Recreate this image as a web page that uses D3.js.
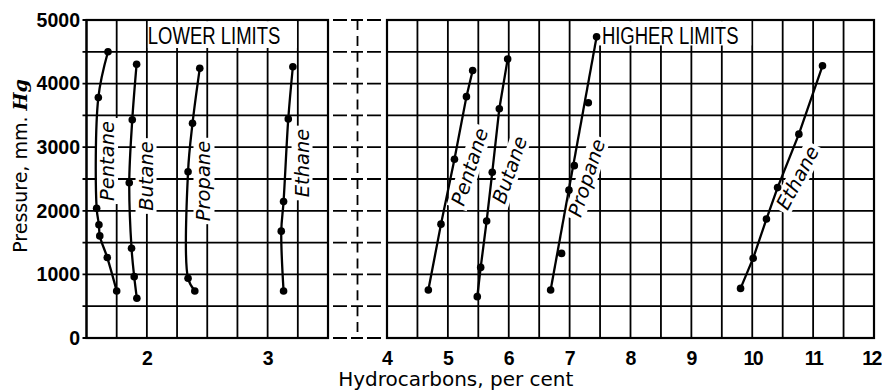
<!DOCTYPE html>
<html>
<head>
<meta charset="utf-8">
<script src="https://cdn.jsdelivr.net/npm/d3@7"></script>
<style>
  body { margin: 0; background: #fff; }
  svg { display: block; }
</style>
</head>
<body>
<svg id="chart" width="882" height="391"></svg>
<script>
// Limits of inflammability of paraffin hydrocarbons in air at reduced pressure.

const gases = ["Pentane", "Butane", "Propane", "Ethane"];

// Lower limits: hydrocarbon per cent and pressure, mm. Hg
const lowerPentanePct = [1.750, 1.672, 1.610, 1.603, 1.584, 1.598, 1.678];
const lowerPentaneP   = [740, 1265, 1605, 1780, 2040, 3780, 4500];
const lowerButanePct  = [1.917, 1.895, 1.873, 1.854, 1.879, 1.915];
const lowerButaneP    = [625, 965, 1410, 2440, 3430, 4305];
const lowerPropanePct = [2.397, 2.341, 2.341, 2.378, 2.438];
const lowerPropaneP   = [740, 940, 2615, 3375, 4240];
const lowerEthanePct  = [3.132, 3.113, 3.132, 3.171, 3.209];
const lowerEthaneP    = [740, 1680, 2145, 3445, 4265];

// Higher limits
const higherPentanePct = [4.679, 4.887, 5.108, 5.305, 5.407];
const higherPentaneP   = [755, 1790, 2810, 3795, 4205];
const higherButanePct  = [5.483, 5.539, 5.637, 5.729, 5.845, 5.982];
const higherButaneP    = [650, 1110, 1840, 2605, 3605, 4385];
const higherPropanePct = [6.688, 6.868, 6.989, 7.077, 7.307, 7.443];
const higherPropaneP   = [755, 1330, 2325, 2710, 3700, 4735];
const higherEthanePct  = [9.808, 10.015, 10.233, 10.416, 10.766, 11.154];
const higherEthaneP    = [780, 1255, 1870, 2365, 3205, 4280];

// Axis ticks
const lowerTicks = [2, 3];
const higherTicks = [4, 5, 6, 7, 8, 9, 10, 11, 12];
const pressureTicks = [0, 1000, 2000, 3000, 4000, 5000];

const svg = d3.select("#chart");

const y = d3.scaleLinear().domain([0, 5000]).range([338, 20]);
const xLow = d3.scaleLinear().domain([1.5, 3.5]).range([86.5, 328]);
const xHigh = d3.scaleLinear().domain([4, 12]).range([387, 874]);

const zip = (xs, ps) => xs.map((v, i) => ({ pct: v, p: ps[i] }));

const panels = [
  {
    x: xLow, step: 0.25, ticks: lowerTicks, title: "LOWER LIMITS",
    box: { x0: 2.0, x1: 3.25, p: 4560 }, titleAt: 2.008,
    curve: d3.curveCatmullRom.alpha(0.5),
    series: [
      { name: gases[0], pts: zip(lowerPentanePct, lowerPentaneP), label: [1.674, 2783, -90] },
      { name: gases[1], pts: zip(lowerButanePct, lowerButaneP), label: [1.993, 2547, -90] },
      { name: gases[2], pts: zip(lowerPropanePct, lowerPropaneP), label: [2.473, 2469, -90] },
      { name: gases[3], pts: zip(lowerEthanePct, lowerEthaneP), label: [3.285, 2752, -90] }
    ]
  },
  {
    x: xHigh, step: 0.5, ticks: higherTicks, title: "HIGHER LIMITS",
    box: { x0: 7.45, x1: 10.0, p: 4600 }, titleAt: 7.53,
    curve: d3.curveLinear,
    series: [
      { name: gases[0], pts: zip(higherPentanePct, higherPentaneP), label: [5.363, 2689, -72] },
      { name: gases[1], pts: zip(higherButanePct, higherButaneP), label: [6.02, 2642, -71] },
      // straight line drawn between the end observations
      { name: gases[2], pts: zip(higherPropanePct, higherPropaneP), label: [7.285, 2516, -72], ends: true },
      { name: gases[3], pts: zip(higherEthanePct, higherEthaneP), label: [10.75, 2516, -62] }
    ]
  }
];

const gridLayer = svg.append("g");
const maskLayer = svg.append("g");
const lineLayer = svg.append("g");
const textLayer = svg.append("g");

const pressureGrid = d3.range(0, 5001, 500);

panels.forEach((pn, k) => {
  const [x0, x1] = pn.x.range();
  const vGrid = d3.range(pn.x.domain()[0], pn.x.domain()[1] + 1e-6, pn.step);

  gridLayer.append("g")
    .selectAll("line").data(vGrid).join("line")
    .attr("x1", d => pn.x(d)).attr("x2", d => pn.x(d))
    .attr("y1", y(5000)).attr("y2", y(0))
    .attr("stroke", "#000").attr("stroke-width", 1.8);

  gridLayer.append("g")
    .selectAll("line").data(pressureGrid).join("line")
    .attr("x1", k === 0 ? x0 - 4 : x0).attr("x2", x1)
    .attr("y1", d => y(d)).attr("y2", d => y(d))
    .attr("stroke", "#000").attr("stroke-width", 1.8);

  gridLayer.append("rect")
    .attr("x", x0).attr("y", y(5000))
    .attr("width", x1 - x0).attr("height", y(0) - y(5000))
    .attr("fill", "none").attr("stroke", "#000").attr("stroke-width", 2.2);

  // heading box
  maskLayer.append("rect")
    .attr("x", pn.x(pn.box.x0) + 1).attr("y", y(5000) + 1.2)
    .attr("width", pn.x(pn.box.x1) - pn.x(pn.box.x0) - 2)
    .attr("height", y(pn.box.p) - y(5000) - 1.2)
    .attr("fill", "#fff");
  textLayer.append("text")
    .attr("transform", `translate(${pn.x(pn.titleAt)},${y(4620)}) scale(1,1.3)`)
    .attr("font-family", "'Liberation Sans', Arial, sans-serif")
    .attr("font-size", 18.5)
    .text(pn.title);

  // tick labels
  const ax = d3.axisBottom(pn.x).tickValues(pn.ticks).tickSize(0).tickPadding(13).tickFormat(d3.format("d"));
  const axG = textLayer.append("g").attr("transform", `translate(0,${y(0)})`).call(ax);
  axG.select(".domain").remove();
  axG.selectAll("text")
    .attr("font-family", "'Liberation Sans', Arial, sans-serif")
    .attr("font-size", 19.5).attr("font-weight", "bold").attr("fill", "#000")
    .attr("letter-spacing", d => d >= 10 ? -1.5 : 0)
    .attr("dx", d => d === 12 ? -3 : 0);

  // curves and points
  pn.series.forEach(s => {
    const linePts = s.ends ? [s.pts[0], s.pts[s.pts.length - 1]] : s.pts;
    lineLayer.append("path")
      .datum(linePts)
      .attr("d", d3.line().x(d => pn.x(d.pct)).y(d => y(d.p)).curve(pn.curve))
      .attr("fill", "none").attr("stroke", "#000").attr("stroke-width", 2.3);
    lineLayer.append("g")
      .selectAll("circle").data(s.pts).join("circle")
      .attr("cx", d => pn.x(d.pct)).attr("cy", d => y(d.p)).attr("r", 3.8)
      .attr("fill", "#000");

    const [lx, lp, ang] = s.label;
    const tf = `translate(${pn.x(lx)},${y(lp)}) rotate(${ang})`;
    const t = textLayer.append("text")
      .attr("transform", tf)
      .attr("text-anchor", "middle").attr("dominant-baseline", "central")
      .attr("font-family", "'DejaVu Sans', sans-serif")
      .attr("font-style", "italic").attr("font-size", 19.5)
      .text(s.name);
    const bb = t.node().getBBox();
    const pad = 3;
    maskLayer.append("rect")
      .attr("transform", tf)
      .attr("x", bb.x - pad).attr("y", bb.y + 1)
      .attr("width", bb.width + 2 * pad).attr("height", bb.height - 2)
      .attr("fill", "#fff");
  });
});

// broken-axis gap between the two panels
const gapL = xLow.range()[1], gapR = xHigh.range()[0];
const gapMid = (gapL + gapR) / 2;
gridLayer.append("g")
  .selectAll("line").data(pressureGrid).join("line")
  .attr("x1", gapL).attr("x2", gapR)
  .attr("y1", d => y(d)).attr("y2", d => y(d))
  .attr("stroke", "#000").attr("stroke-width", 1.8)
  .attr("stroke-dasharray", "0,5,14,4,12,4,14,5");
gridLayer.append("line")
  .attr("x1", gapMid).attr("x2", gapMid)
  .attr("y1", y(5000)).attr("y2", y(0))
  .attr("stroke", "#000").attr("stroke-width", 1.8)
  .attr("stroke-dasharray", "10,5.9");

// pressure axis labels
const yAx = d3.axisLeft(y).tickValues(pressureTicks).tickSize(0).tickPadding(6.5).tickFormat(d3.format("d"));
const yG = textLayer.append("g").attr("transform", `translate(${xLow.range()[0]},0)`).call(yAx);
yG.select(".domain").remove();
yG.selectAll("text")
  .attr("font-family", "'Liberation Sans', Arial, sans-serif")
  .attr("font-size", 19.5).attr("font-weight", "bold").attr("fill", "#000");

// axis titles
textLayer.append("text")
  .attr("x", xHigh(5.13)).attr("y", 386)
  .attr("text-anchor", "middle")
  .attr("font-family", "'DejaVu Sans', sans-serif").attr("font-size", 20)
  .text("Hydrocarbons, per cent");

const yt = textLayer.append("text")
  .attr("transform", "translate(27,166) rotate(-90)")
  .attr("text-anchor", "middle")
  .attr("font-family", "'DejaVu Sans', sans-serif").attr("font-size", 19);
yt.append("tspan").text("Pressure, mm. ");
yt.append("tspan").attr("font-family", "'DejaVu Serif', serif")
  .attr("font-weight", "bold").attr("font-style", "italic").text("Hg");
</script>
</body>
</html>
